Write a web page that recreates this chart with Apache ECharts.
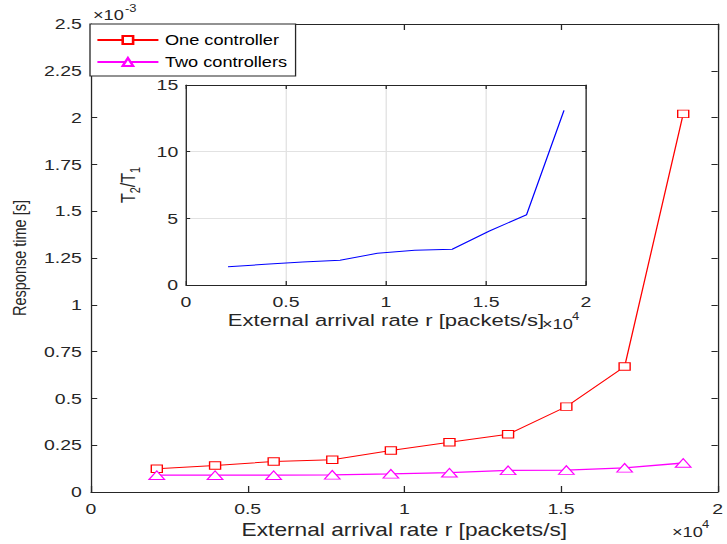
<!DOCTYPE html>
<html>
<head>
<meta charset="utf-8">
<script src="https://cdn.jsdelivr.net/npm/echarts@6/dist/echarts.min.js"></script>
<style>
html,body{margin:0;padding:0;background:#fff;overflow:hidden;}
#c{width:560px;height:544px;transform:scaleX(1.2982143);transform-origin:0 0;}
</style>
</head>
<body>
<div id="c"></div>
<script>
// External arrival rate r [packets/s]
const rate = [2100, 3960, 5830, 7700, 9570, 11440, 13310, 15170, 17030, 18900];
// Response time, in units of 10^-3 s
const oneController = [0.124, 0.142, 0.163, 0.172, 0.222, 0.266, 0.308, 0.456, 0.670, 2.020];
const twoControllers = [0.090, 0.090, 0.090, 0.092, 0.097, 0.103, 0.116, 0.117, 0.129, 0.155];
// Inset: ratio T2/T1
const ratio = [1.37, 1.55, 1.72, 1.85, 2.38, 2.60, 2.68, 4.05, 5.27, 13.1];

const seriesNames = ['One controller', 'Two controllers'];
const xTickLabels = ['0', '0.5', '1', '1.5', '2'];            // x 10^4
const yTickLabels = ['0', '0.25', '0.5', '0.75', '1', '1.25', '1.5', '1.75', '2', '2.25', '2.5']; // x 10^-3
const insetYTickLabels = ['0', '5', '10', '15'];
const xTitle = 'External arrival rate r [packets/s]';
const yTitle = 'Response time [s]';

const S = 727 / 560;
const ux = v => v / S;
const FONT = "'Liberation Sans', Arial, Helvetica, sans-serif";
const INK = '#262626';

const chart = echarts.init(document.getElementById('c'), null, {renderer: 'svg', width: 560, height: 544});

const axisLine = {show: true, onZero: false, lineStyle: {color: INK, width: 1}};
function xAx(grid, pos, opts) {
  return Object.assign({
    type: 'value', gridIndex: grid, position: pos, min: 0, max: 20000, interval: 5000,
    axisLine: axisLine,
    axisTick: {show: true, inside: true, length: grid === 0 ? 6 : 4, lineStyle: {color: INK}},
    axisLabel: {show: false},
    splitLine: {show: false}
  }, opts || {});
}
function yAx(grid, pos, max, interval, opts) {
  return Object.assign({
    type: 'value', gridIndex: grid, position: pos, min: 0, max: max, interval: interval,
    axisLine: axisLine,
    axisTick: {show: true, inside: true, length: grid === 0 ? 4.8 : 3.2, lineStyle: {color: INK}},
    axisLabel: {show: false},
    splitLine: {show: false}
  }, opts || {});
}
const tickLabel = {show: true, color: INK, fontSize: 15, fontFamily: FONT};

const tri = 'path://M0,10 L5,0 L10,10 Z';

const option = {
  animation: false,
  backgroundColor: '#fff',
  textStyle: {fontFamily: FONT},
  grid: [
    {left: ux(90), top: 24, width: ux(718) - ux(90), height: 469, show: true, backgroundColor: '#fff', borderWidth: 0},
    {left: ux(186), top: 85, width: ux(586) - ux(186), height: 200, show: true, backgroundColor: '#fff', borderWidth: 0, z: 5}
  ],
  xAxis: [
    xAx(0, 'bottom', {
      axisLabel: Object.assign({}, tickLabel, {margin: 9, formatter: v => xTickLabels[Math.round(v / 5000)]}),
      name: xTitle, nameLocation: 'middle', nameGap: 29,
      nameTextStyle: {fontSize: 17.5, color: INK, fontFamily: FONT}
    }),
    xAx(0, 'top'),
    xAx(1, 'bottom', {
      z: 6,
      axisLabel: Object.assign({}, tickLabel, {margin: 9, formatter: v => xTickLabels[Math.round(v / 5000)]}),
      splitLine: {show: true, lineStyle: {color: '#e2e2e2', width: 1}},
      name: xTitle, nameLocation: 'middle', nameGap: 26,
      nameTextStyle: {fontSize: 17, color: INK, fontFamily: FONT}
    }),
    xAx(1, 'top', {z: 6})
  ],
  yAxis: [
    yAx(0, 'left', 2.5, 0.25, {
      axisLabel: Object.assign({}, tickLabel, {margin: 7, formatter: v => yTickLabels[Math.round(v / 0.25)]}),
      name: yTitle, nameLocation: 'middle', nameGap: 42, nameRotate: 90,
      nameTextStyle: {fontSize: 14.5, color: INK, fontFamily: FONT}
    }),
    yAx(0, 'right', 2.5, 0.25),
    yAx(1, 'left', 15, 5, {
      z: 6,
      axisLabel: Object.assign({}, tickLabel, {margin: 6, formatter: v => insetYTickLabels[Math.round(v / 5)]}),
      splitLine: {show: true, lineStyle: {color: '#e2e2e2', width: 1}},
      name: 'T{s|2}/T{s|1}', nameLocation: 'middle', nameGap: 30, nameRotate: 90,
      nameTextStyle: {
        fontSize: 16, color: INK, fontFamily: FONT, lineHeight: 22, verticalAlign: 'middle',
        rich: {s: {fontSize: 11, color: INK, fontFamily: FONT, lineHeight: 11, verticalAlign: 'bottom'}}
      }
    }),
    yAx(1, 'right', 15, 5, {z: 6})
  ],
  legend: {
    orient: 'vertical', left: ux(90), top: 24,
    padding: [9, 6.5, 7, 4.7], itemGap: 8,
    itemWidth: 47, itemHeight: 10,
    backgroundColor: '#fff', borderColor: INK, borderWidth: 1, borderRadius: 0,
    textStyle: {fontSize: 14, color: '#000', fontFamily: FONT},
    data: seriesNames,
    z: 20
  },
  series: [
    {
      name: seriesNames[0], type: 'line', xAxisIndex: 0, yAxisIndex: 0,
      data: rate.map((r, i) => [r, oneController[i]]),
      symbol: 'rect', symbolSize: [8.5, 7.5],
      itemStyle: {color: '#fff', borderColor: '#ff0000', borderWidth: 1},
      lineStyle: {color: '#ff0000', width: 1},
      color: '#ff0000'
    },
    {
      name: seriesNames[1], type: 'line', xAxisIndex: 0, yAxisIndex: 0,
      data: rate.map((r, i) => [r, twoControllers[i]]),
      symbol: tri, symbolSize: [12, 8.6],
      itemStyle: {color: '#fff', borderColor: '#ff00ff', borderWidth: 1},
      lineStyle: {color: '#ff00ff', width: 1.3},
      color: '#ff00ff'
    },
    {
      name: 'ratio', type: 'line', xAxisIndex: 2, yAxisIndex: 2, z: 7,
      data: rate.map((r, i) => [r, ratio[i]]),
      symbol: 'none',
      lineStyle: {color: '#0000ff', width: 1}
    }
  ],
  graphic: [
    {type: 'text', x: ux(93), y: 15, z: 30, style: {text: '\u00d710', font: '14px ' + FONT, fill: INK, align: 'left', verticalAlign: 'middle', textAlign: 'left', textVerticalAlign: 'middle'}},
    {type: 'text', x: ux(125), y: 9, z: 30, style: {text: '-3', font: '10px ' + FONT, fill: INK, align: 'left', verticalAlign: 'middle', textAlign: 'left', textVerticalAlign: 'middle'}},
    {type: 'text', x: ux(672), y: 532, z: 30, style: {text: '\u00d710', font: '14px ' + FONT, fill: INK, align: 'left', verticalAlign: 'middle', textAlign: 'left', textVerticalAlign: 'middle'}},
    {type: 'text', x: ux(702), y: 525, z: 30, style: {text: '4', font: '10px ' + FONT, fill: INK, align: 'left', verticalAlign: 'middle', textAlign: 'left', textVerticalAlign: 'middle'}},
    {type: 'text', x: ux(542), y: 324, z: 30, style: {text: '\u00d710', font: '14px ' + FONT, fill: INK, align: 'left', verticalAlign: 'middle', textAlign: 'left', textVerticalAlign: 'middle'}},
    {type: 'text', x: ux(572), y: 317, z: 30, style: {text: '4', font: '10px ' + FONT, fill: INK, align: 'left', verticalAlign: 'middle', textAlign: 'left', textVerticalAlign: 'middle'}}
  ]
};
chart.setOption(option);
</script>
</body>
</html>
